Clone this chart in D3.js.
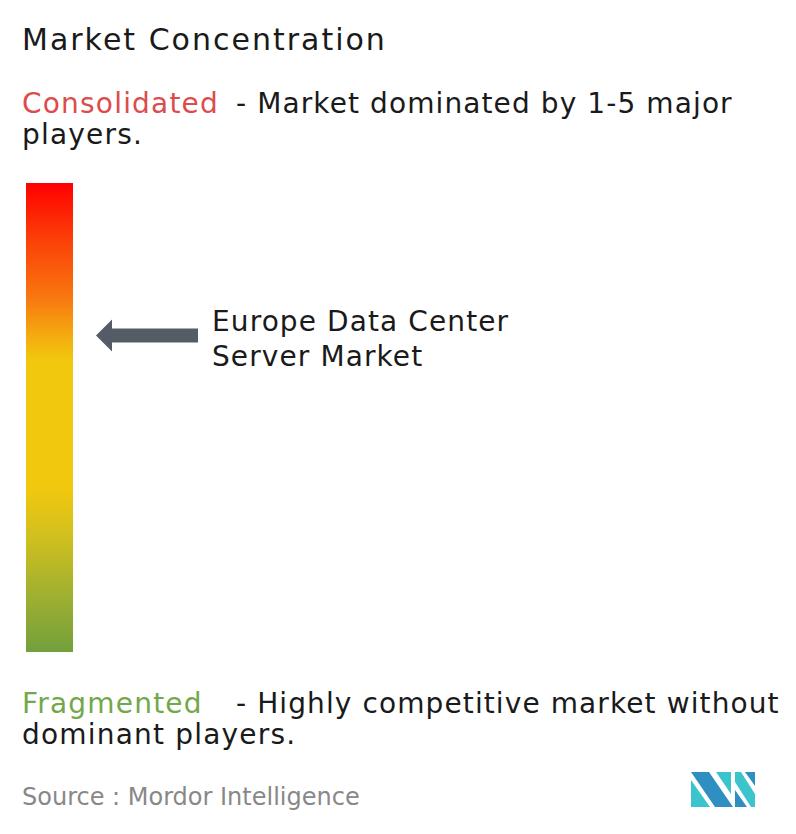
<!DOCTYPE html>
<html><head><meta charset="utf-8">
<script src="https://cdn.jsdelivr.net/npm/d3@7"></script>
<style>body{margin:0;background:#fff}text{font-family:"DejaVu Sans",sans-serif}</style>
</head><body><svg id="c" width="796" height="834"></svg>
<script>
const title = "Market Concentration";
const labels = ["Consolidated", "Fragmented"];
const descriptions = [["- Market dominated by 1-5 major", "players."], ["- Highly competitive market without", "dominant players."]];
const marketName = ["Europe Data Center", "Server Market"];
const marketPosition = [0.325]; // 0 = consolidated (top), 1 = fragmented (bottom)
const gradientOffsets = [0, 0.12, 0.25, 0.33, 0.38, 0.65, 0.75, 0.88, 1];
const gradientColors = ["#ff0000", "#fc3f08", "#f87a10", "#f4ae10", "#f2c80e", "#f2c80e", "#d2c01e", "#a0b030", "#72a03c"];
const source = "Source :  Mordor Intelligence";

const svg = d3.select("#c");
svg.append("text").attr("x",22).attr("y",50).attr("font-size",30).attr("letter-spacing",2).attr("fill","#1a1a1a").text(title);

[[labels[0],"#dc4c4c",113,descriptions[0]],[labels[1],"#72a84a",713,descriptions[1]]].forEach(([l,c,yy,d])=>{
  svg.append("text").attr("x",22).attr("y",yy).attr("font-size",28).attr("letter-spacing",1.2).attr("fill",c).text(l);
  svg.append("text").attr("x",236).attr("y",yy).attr("font-size",28).attr("letter-spacing",1.1).attr("fill","#1a1a1a").text(d[0]);
  svg.append("text").attr("x",22).attr("y",yy+31).attr("font-size",28).attr("letter-spacing",1.2).attr("fill","#1a1a1a").text(d[1]);
});

const defs = svg.append("defs");
const grad = defs.append("linearGradient").attr("id","g").attr("x1",0).attr("y1",0).attr("x2",0).attr("y2",1);
gradientOffsets.forEach((o,i)=>grad.append("stop").attr("offset",o).attr("stop-color",gradientColors[i]));
const y = d3.scaleLinear().domain([0,1]).range([183,652]);
svg.append("rect").attr("x",26).attr("y",y(0)).attr("width",47).attr("height",y(1)-y(0)).attr("fill","url(#g)");

const ay = y(marketPosition[0]);
svg.append("path").attr("fill","#545c66")
  .attr("d",`M96,${ay} L112,${ay-16} L112,${ay-7} L198,${ay-7} L198,${ay+7} L112,${ay+7} L112,${ay+16} Z`);
marketName.forEach((t,i)=>svg.append("text").attr("x",212).attr("y",ay-4+i*35).attr("font-size",28).attr("letter-spacing",1.1).attr("fill","#1a1a1a").text(t));

svg.append("text").attr("x",22).attr("y",805).attr("font-size",24).attr("fill","#888").text(source);

const lg = svg.append("g").attr("transform","translate(691,772)");
lg.append("path").attr("fill","#2f8fc0").attr("d","M0,0 L18,0 L42,35 L24,35 Z");
lg.append("path").attr("fill","#3cc4cc").attr("d","M0,8 L0,35 L19,35 Z");
lg.append("path").attr("fill","#3cc4cc").attr("d","M25,0 L40,0 L40,22 Z");
lg.append("path").attr("fill","#3cc4cc").attr("d","M44,0 L50,0 L64,22 L64,35 L60,35 L44,10 Z");
lg.append("path").attr("fill","#2f8fc0").attr("d","M44,18 L56,35 L44,35 Z");
lg.append("path").attr("fill","#2f8fc0").attr("d","M54,0 L64,0 L64,14 Z");
</script></body></html>
